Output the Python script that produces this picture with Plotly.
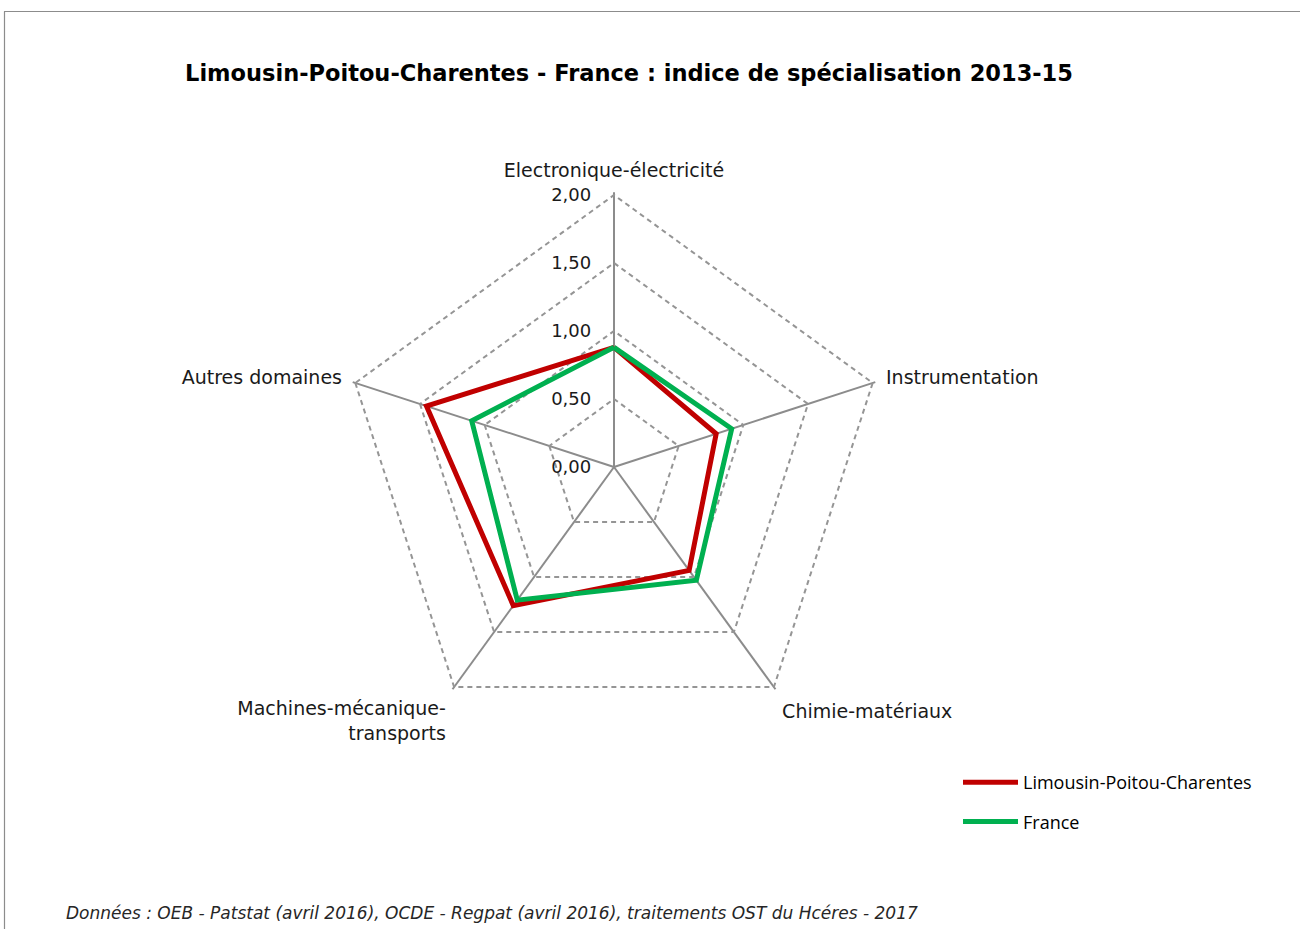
import plotly.graph_objects as go

# Domaines technologiques (axes du radar)
domaines = [
    "Electronique-électricité",
    "Instrumentation",
    "Chimie-matériaux",
    "Machines-mécanique-<br>transports",
    "Autres domaines",
]

# Indice de spécialisation 2013-15
lpc = [0.88, 0.79, 0.94, 1.26, 1.45]
france = [0.88, 0.91, 1.03, 1.21, 1.10]

radial_ticks = [0, 0.5, 1.0, 1.5, 2.0]
# léger dépassement pour que la grille à 2,00 soit tracée
radial_range = [0, 2.02]

RED = "#C00000"
GREEN = "#00B050"
GRID = "#959595"
SPOKE = "#8c8c8c"
TEXT = "#1a1a1a"
AXIS_FONT = dict(family="DejaVu Sans", size=19, color=TEXT)

# Centre et rayon du radar (px) ; le rayon correspond à radial_range[1]
CX, CY = 614, 467
RADIUS = 272 * radial_range[1] / 2.0
W, H = 1300, 929

fig = go.Figure()

fig.add_trace(go.Scatterpolar(
    r=lpc + lpc[:1],
    theta=domaines + domaines[:1],
    mode="lines",
    name="Limousin-Poitou-Charentes",
    legendgroup="lpc",
    line=dict(color=RED, width=5),
))
fig.add_trace(go.Scatterpolar(
    r=france + france[:1],
    theta=domaines + domaines[:1],
    mode="lines",
    name="France",
    legendgroup="fr",
    line=dict(color=GREEN, width=5),
))

fig.update_layout(
    width=W,
    height=H,
    margin=dict(l=0, r=0, t=0, b=0),
    paper_bgcolor="white",
    plot_bgcolor="white",
    separators=", ",
    font=AXIS_FONT,
    title=dict(
        text="<b>Limousin-Poitou-Charentes - France : indice de spécialisation 2013-15</b>",
        x=629 / W,
        xanchor="center",
        y=1 - 73 / H,
        yanchor="middle",
        font=dict(family="DejaVu Sans", size=22.5, color="#000000"),
    ),
    polar=dict(
        domain=dict(x=[(CX - RADIUS) / W, (CX + RADIUS) / W],
                    y=[(H - CY - RADIUS) / H, (H - CY + RADIUS) / H]),
        gridshape="linear",
        bgcolor="white",
        radialaxis=dict(
            range=radial_range,
            tickvals=radial_ticks,
            tickformat=".2f",
            angle=90,
            tickangle=90,
            side="counterclockwise",
            showline=False,
            ticks="outside",
            ticklen=16,
            tickcolor="rgba(0,0,0,0)",
            gridcolor=GRID,
            griddash="5px,4px",
            gridwidth=1.5,
            tickfont=dict(family="DejaVu Sans", size=18, color=TEXT),
        ),
        angularaxis=dict(
            direction="clockwise",
            rotation=90,
            showline=False,
            ticks="outside",
            ticklen=7,
            tickcolor="rgba(0,0,0,0)",
            gridcolor=SPOKE,
            gridwidth=1.5,
            tickfont=AXIS_FONT,
        ),
    ),
    legend=dict(
        x=958 / W,
        y=1 - 764 / H,
        xanchor="left",
        yanchor="top",
        bgcolor="rgba(0,0,0,0)",
        font=dict(family="Open Sans", size=18, color="#000000"),
        traceorder="grouped",
        tracegroupgap=13,
        itemwidth=55,
    ),
    annotations=[
        dict(
            text="<i>Données : OEB - Patstat (avril 2016), OCDE - Regpat (avril 2016), traitements OST du Hcéres - 2017</i>",
            x=64 / W,
            y=1 - 913 / H,
            xref="paper",
            yref="paper",
            xanchor="left",
            yanchor="middle",
            showarrow=False,
            font=dict(family="DejaVu Sans", size=17, color="#262626"),
        )
    ],
    shapes=[
        dict(type="line", xref="paper", yref="paper",
             x0=4 / W, x1=1.0, y0=1 - 11.5 / H, y1=1 - 11.5 / H,
             line=dict(color="#8c8c8c", width=1.2)),
        dict(type="line", xref="paper", yref="paper",
             x0=4.5 / W, x1=4.5 / W, y0=0, y1=1 - 11.5 / H,
             line=dict(color="#8c8c8c", width=1.2)),
    ],
)

fig.write_html("out.html")
